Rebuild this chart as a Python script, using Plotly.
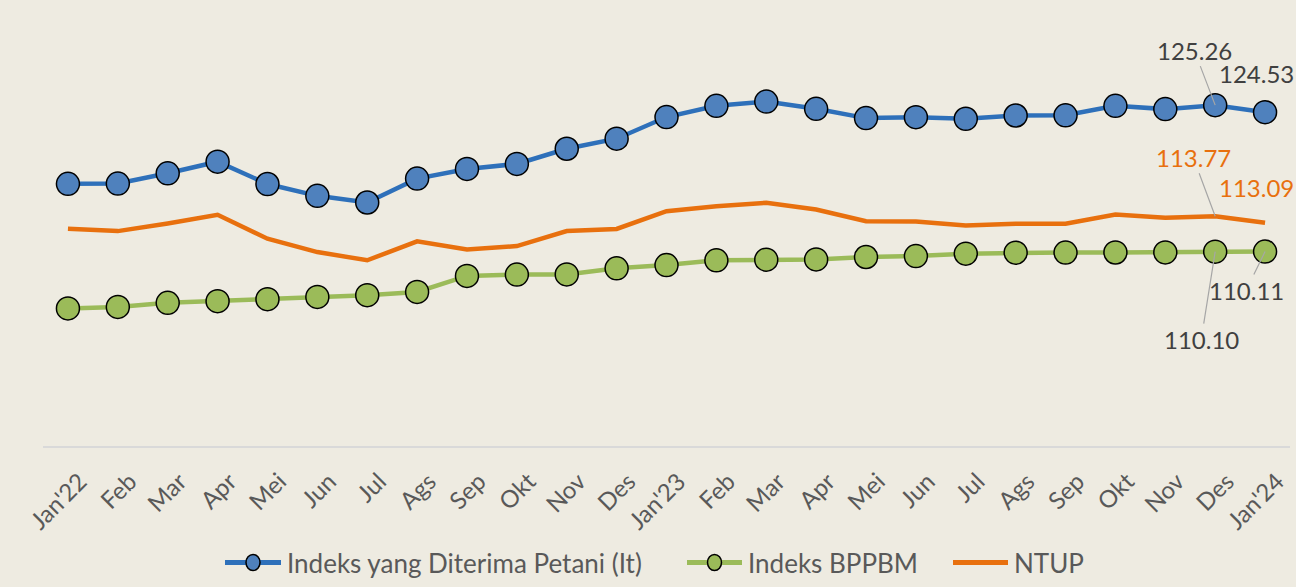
import plotly.graph_objects as go

months = ["Jan'22", "Feb", "Mar", "Apr", "Mei", "Jun", "Jul", "Ags", "Sep", "Okt", "Nov", "Des",
          "Jan'23", "Feb ", "Mar ", "Apr ", "Mei ", "Jun ", "Jul ", "Ags ", "Sep ", "Okt ", "Nov ", "Des ", "Jan'24"]
month_labels = [m.strip() for m in months]

it_vals = [117.12, 117.15, 118.21, 119.41, 117.10, 115.88, 115.19, 117.66, 118.66, 119.18, 120.75, 121.79,
           124.03, 125.19, 125.63, 124.88, 123.92, 124.02, 123.85, 124.19, 124.21, 125.19, 124.85, 125.26, 124.53]

ib_vals = [104.23, 104.39, 104.81, 104.98, 105.19, 105.42, 105.60, 105.94, 107.59, 107.73, 107.75, 108.38,
           108.72, 109.21, 109.28, 109.30, 109.55, 109.65, 109.90, 110.00, 110.01, 110.02, 110.03, 110.10, 110.11]

ntup_vals = [112.48, 112.23, 113.02, 113.92, 111.44, 110.06, 109.21, 111.17, 110.34, 110.68, 112.23, 112.45,
             114.29, 114.81, 115.16, 114.47, 113.26, 113.23, 112.82, 112.99, 112.99, 113.95, 113.61, 113.77, 113.09]

names = ["Indeks yang Diterima Petani (It)", "Indeks BPPBM", "NTUP"]

FONT = "Lato"
BG = "#EEEBE1"
W, H = 1296, 587
ML, MR, MT, MB = 43, 6, 11, 141
PW, PH = W - ML - MR, H - MT - MB

BLUE_L, BLUE_M = "#2E70BA", "#4F81BD"
GREEN = "#9BBB59"
ORANGE = "#E8700E"

fig = go.Figure()
fig.add_trace(go.Scatter(x=months, y=ntup_vals, name=names[2], mode="lines",
                         line=dict(color=ORANGE, width=4.5)))
fig.add_trace(go.Scatter(x=months, y=ib_vals, name=names[1], mode="lines+markers",
                         line=dict(color=GREEN, width=4.5),
                         marker=dict(size=23, color=GREEN, line=dict(color="black", width=1.5))))
fig.add_trace(go.Scatter(x=months, y=it_vals, name=names[0], mode="lines+markers",
                         line=dict(color=BLUE_L, width=4.5),
                         marker=dict(size=23, color=BLUE_M, line=dict(color="black", width=1.5))))

def label(idx, vals, text, color, ax, ay, arrow=True):
    fig.add_annotation(x=months[idx], y=vals[idx], text=text, showarrow=True,
                       ax=ax, ay=ay, axref="pixel", ayref="pixel",
                       arrowhead=0, arrowwidth=1.2,
                       arrowcolor="#A6A6A6" if arrow else "rgba(0,0,0,0)",
                       standoff=0, startstandoff=0,
                       font=dict(family=FONT, size=24, color=color))

label(23, it_vals, "125.26", "#404040", -21, -55)
label(24, it_vals, "124.53", "#404040", -9, -39, arrow=False)
label(23, ntup_vals, "113.77", ORANGE, -22, -59)
label(24, ntup_vals, "113.09", ORANGE, -9, -35, arrow=False)
label(23, ib_vals, "110.10", "#404040", -14, 88)
label(24, ib_vals, "110.11", "#404040", -19, 39)

# custom legend (pixel layout converted to paper coords)
def px(xp):
    return (xp - ML) / PW

def py(yp):
    return (H - MB - yp) / PH

LEG_Y = 562.5
legend_items = [
    (names[0], BLUE_L, BLUE_M, 225, 281),
    (names[1], GREEN, GREEN, 687, 742),
    (names[2], ORANGE, None, 953, 1008),
]
for name, lcol, mcol, x0, x1 in legend_items:
    fig.add_shape(type="line", xref="paper", yref="paper", x0=px(x0), x1=px(x1),
                  y0=py(LEG_Y), y1=py(LEG_Y), line=dict(color=lcol, width=5))
    if mcol:
        cx = px((x0 + x1) / 2)
        fig.add_shape(type="circle", xref="paper", yref="paper",
                      xsizemode="pixel", ysizemode="pixel",
                      xanchor=cx, yanchor=py(LEG_Y),
                      x0=-7, x1=7, y0=-8, y1=8,
                      fillcolor=mcol, line=dict(color="black", width=1.5))
    fig.add_annotation(xref="paper", yref="paper", x=px(x1 + 4), y=py(LEG_Y),
                       xanchor="left", yanchor="middle", showarrow=False, text=name,
                       font=dict(family=FONT, size=26, color="#595959"))

fig.update_layout(
    width=W, height=H,
    margin=dict(l=ML, r=MR, t=MT, b=MB, autoexpand=False),
    paper_bgcolor=BG, plot_bgcolor=BG,
    font=dict(family=FONT, color="#595959"),
    showlegend=False,
    hovermode=False,
    xaxis=dict(type="category", range=[-0.5, 24.5], showgrid=False, zeroline=False,
               showline=True, linecolor="#D9D9D9", linewidth=2, automargin=False,
               tickmode="array", tickvals=months, ticktext=month_labels,
               tickangle=-45, tickfont=dict(family=FONT, size=24, color="#595959"),
               ticklabelshift=12, ticklabelstandoff=10,
               ticks=""),
    yaxis=dict(range=[90, 135], visible=False, showgrid=False, zeroline=False),
)

fig.write_html("out.html", config={"displayModeBar": False},
               post_script="document.body.style.margin='0px';document.body.style.background='#EEEBE1';")
